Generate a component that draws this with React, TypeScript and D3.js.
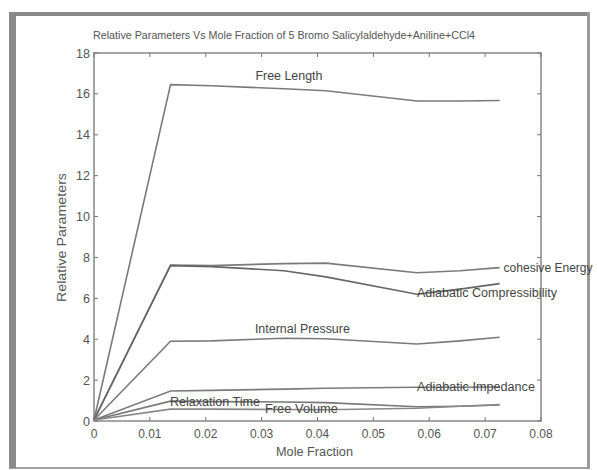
import React from "react";
import * as d3 from "d3";

const moleFraction = [0, 0.0137, 0.021, 0.034, 0.0415, 0.0578, 0.0655, 0.0726];
const freeLength = [0.05, 16.45, 16.4, 16.25, 16.15, 15.65, 15.65, 15.68];
const cohesiveEnergy = [0.05, 7.63, 7.6, 7.7, 7.72, 7.25, 7.35, 7.5];
const adiabaticCompressibility = [0.05, 7.6, 7.55, 7.35, 7.05, 6.2, 6.45, 6.72];
const internalPressure = [0.05, 3.9, 3.92, 4.05, 4.02, 3.77, 3.92, 4.1];
const adiabaticImpedance = [0.05, 1.47, 1.5, 1.56, 1.6, 1.65, 1.65, 1.66];
const relaxationTime = [0.05, 0.97, 0.95, 0.93, 0.9, 0.7, 0.72, 0.78];
const freeVolume = [0.05, 0.58, 0.58, 0.56, 0.55, 0.62, 0.72, 0.8];

const xTicks = [0, 0.01, 0.02, 0.03, 0.04, 0.05, 0.06, 0.07, 0.08];
const yTicks = [0, 2, 4, 6, 8, 10, 12, 14, 16, 18];

const series = [
  { name: "Free Length", values: freeLength, color: "#7a7a7a" },
  { name: "cohesive Energy", values: cohesiveEnergy, color: "#7a7a7a" },
  { name: "Adiabatic Compressibility", values: adiabaticCompressibility, color: "#666" },
  { name: "Internal Pressure", values: internalPressure, color: "#7a7a7a" },
  { name: "Adiabatic Impedance", values: adiabaticImpedance, color: "#7a7a7a" },
  { name: "Relaxation Time", values: relaxationTime, color: "#777" },
  { name: "Free Volume", values: freeVolume, color: "#888" },
];

// label anchors in data coordinates, with the widths they take in the picture
const labels = [
  { text: "Free Length", x: 0.0289, y: 16.68, w: 67 },
  { text: "cohesive Energy", x: 0.0733, y: 7.3, w: 89 },
  { text: "Adiabatic Compressibility", x: 0.0578, y: 6.07, w: 140 },
  { text: "Internal Pressure", x: 0.0288, y: 4.3, w: 95 },
  { text: "Adiabatic Impedance", x: 0.0578, y: 1.47, w: 118 },
  { text: "Relaxation Time", x: 0.0136, y: 0.74, w: 90 },
  { text: "Free Volume", x: 0.0306, y: 0.39, w: 73 },
];

const W = 597;
const H = 470;
const L = 94, R = 541, T = 53, B = 421;

export default function App() {
  const x = d3.scaleLinear().domain([0, 0.08]).range([L, R]);
  const y = d3.scaleLinear().domain([0, 18]).range([B, T]);
  const line = d3.line<number>().x((_, i) => x(moleFraction[i])).y((d) => y(d));
  const font = "'Liberation Sans', Arial, sans-serif";
  const tc = "#555";
  return (
    <svg width={W} height={H} style={{ position: "absolute", left: 0, top: 0, background: "#fff" }}>
      {/* outer frame */}
      <rect x={10} y={13} width={579} height={455} fill="#fff" stroke="#a0a0a0" strokeWidth={2} />
      <rect x={9} y={12} width={581} height={4} fill="#8a8a8a" />
      <rect x={9} y={12} width={7} height={456} fill="#8a8a8a" />
      <rect x={587} y={12} width={3} height={456} fill="#9a9a9a" />

      <text x={93} y={39} fontFamily={font} fontSize={11.5} fill={tc} textLength={382} lengthAdjust="spacingAndGlyphs">
        Relative Parameters Vs Mole Fraction of 5 Bromo Salicylaldehyde+Aniline+CCl4
      </text>

      {/* axis box */}
      <rect x={L} y={T} width={R - L} height={B - T} fill="none" stroke="#888" strokeWidth={1.5} />
      {xTicks.map((t) => (
        <g key={"x" + t}>
          <line x1={x(t)} x2={x(t)} y1={B} y2={B - 4} stroke="#777" />
          <line x1={x(t)} x2={x(t)} y1={T} y2={T + 4} stroke="#777" />
          <text x={x(t)} y={B + 17} textAnchor="middle" fontFamily={font} fontSize={12} fill={tc}>
            {t === 0 ? "0" : d3.format(".2f")(t)}
          </text>
        </g>
      ))}
      {yTicks.map((t) => (
        <g key={"y" + t}>
          <line x1={L} x2={L + 4} y1={y(t)} y2={y(t)} stroke="#777" />
          <line x1={R} x2={R - 4} y1={y(t)} y2={y(t)} stroke="#777" />
          <text x={L - 4} y={y(t) + 4.5} textAnchor="end" fontFamily={font} fontSize={12.5} fill={tc}>
            {t}
          </text>
        </g>
      ))}
      <text x={276} y={B + 35} fontFamily={font} fontSize={12} fill={tc} textLength={77} lengthAdjust="spacingAndGlyphs">
        Mole Fraction
      </text>
      <text transform={`translate(66,302) rotate(-90)`} fontFamily={font} fontSize={12} fill={tc} textLength={129} lengthAdjust="spacingAndGlyphs">
        Relative Parameters
      </text>

      {series.map((s) => (
        <path key={s.name} d={line(s.values) || ""} fill="none" stroke={s.color} strokeWidth={1.6} />
      ))}

      {labels.map((lb) => (
        <text key={lb.text} x={x(lb.x)} y={y(lb.y)} fontFamily={font} fontSize={12} fill="#444" textLength={lb.w} lengthAdjust="spacingAndGlyphs">
          {lb.text}
        </text>
      ))}
    </svg>
  );
}
